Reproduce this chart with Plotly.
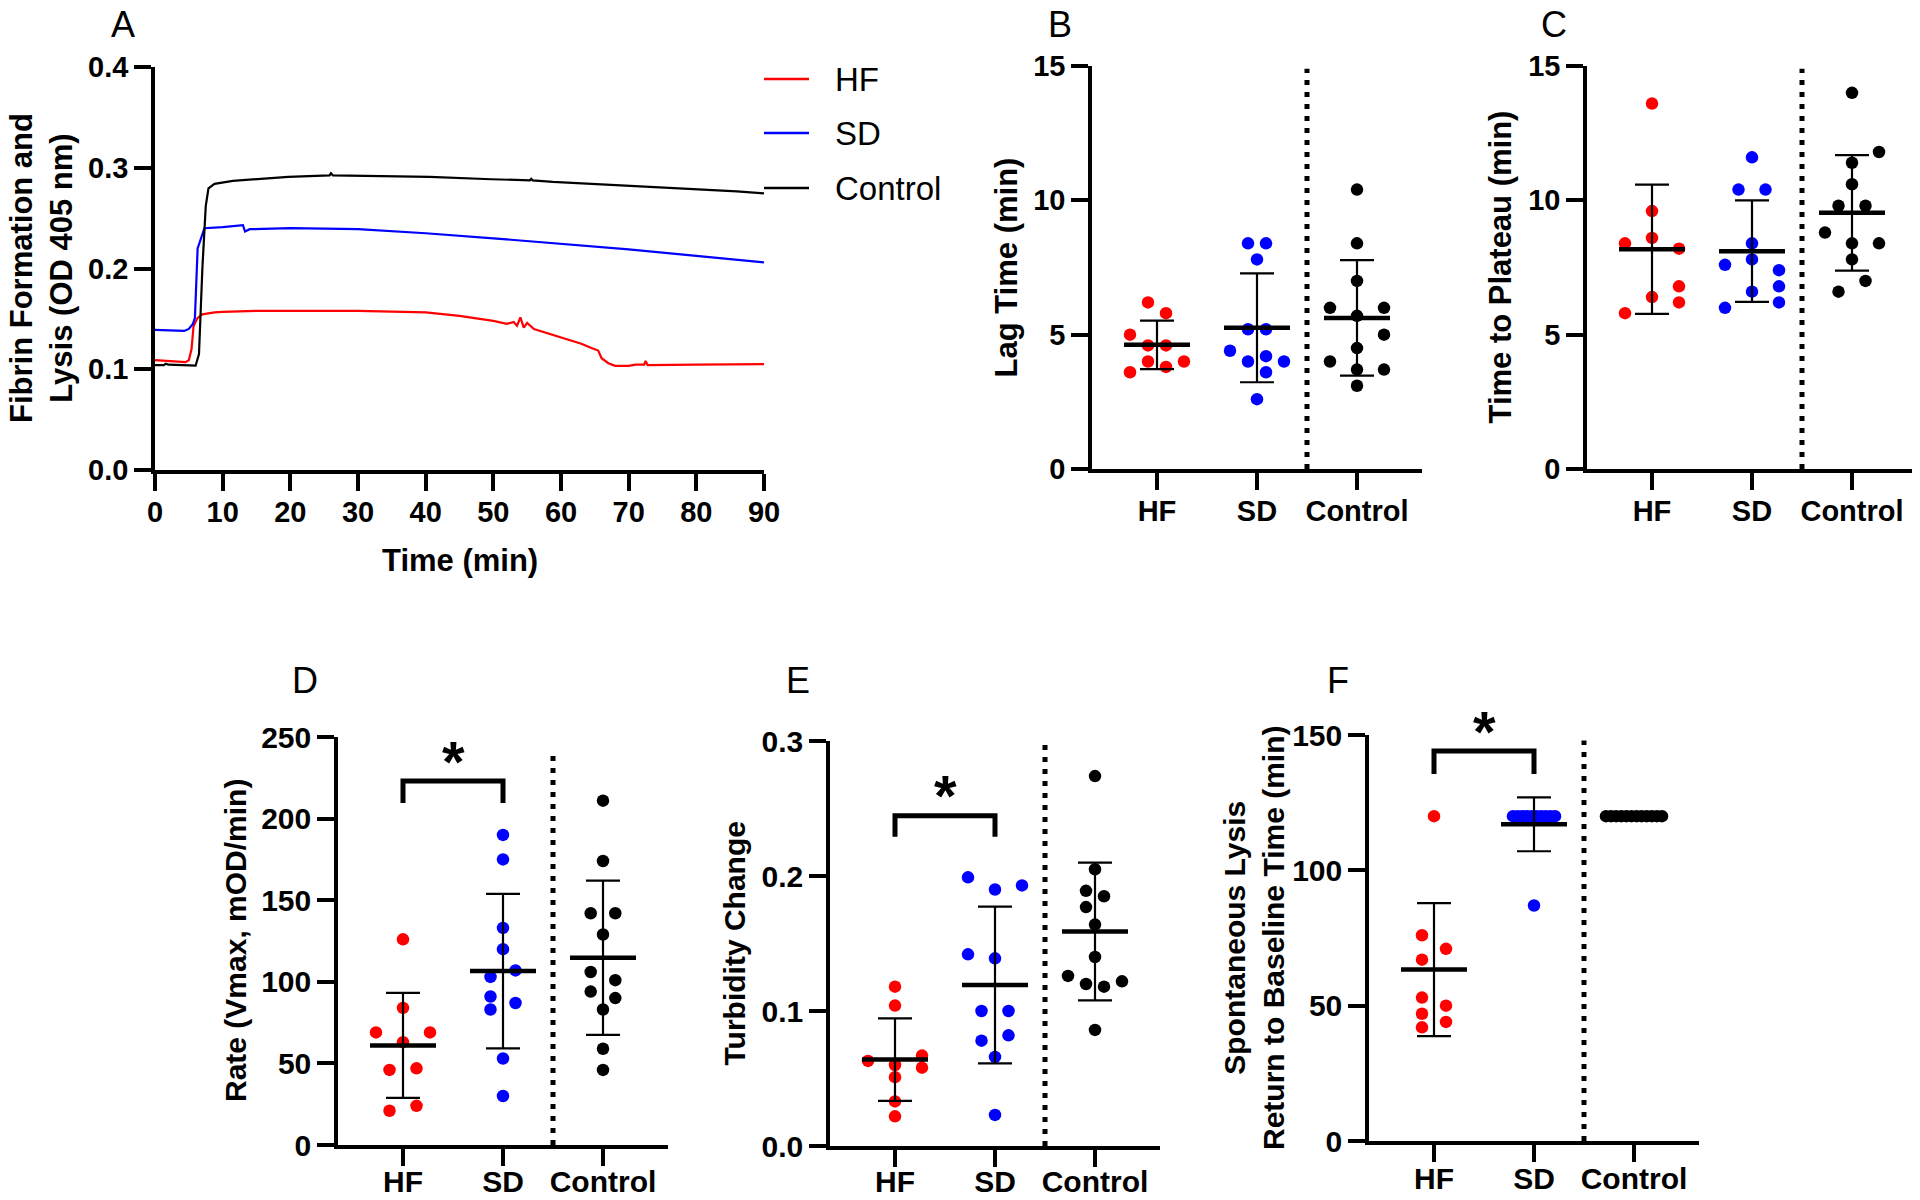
import numpy as np
import plotly.graph_objects as go

W, H = 1920, 1200
OFF = 8  # the page body margin moves the figure by 8 px
FW, FH = W - OFF, H - OFF
FONT = "Liberation Sans, Arial, Helvetica, sans-serif"

groups = ["HF", "SD", "Control"]
colors = ["#ff0000", "#0000ff", "#000000"]

# ---------------- A: fibrin formation and lysis (OD 405 nm) ----------------
hf_time = [0, 2, 4.5, 5.0, 5.4, 5.7, 6.3, 7, 8.8, 10, 15, 30, 35, 40, 45, 50, 52, 53, 53.5, 54,
           54.5, 55, 56, 60, 63, 64.5, 65.5, 66, 67, 68, 70, 71, 72.3, 72.5, 72.8, 80, 90]
hf_od = [0.109, 0.108, 0.107, 0.109, 0.120, 0.143, 0.151, 0.1545, 0.1565, 0.157, 0.158, 0.158, 0.1575,
         0.1565, 0.153, 0.148, 0.145, 0.147, 0.1432, 0.1515, 0.1413, 0.146, 0.140, 0.1318, 0.1254,
         0.121, 0.1186, 0.111, 0.106, 0.1034, 0.1034, 0.1045, 0.1045, 0.1083, 0.104, 0.1045, 0.105]

sd_time = [0, 4.3, 5.0, 5.6, 5.9, 6.3, 7.3, 10, 13, 13.3, 14, 20, 30, 40, 50, 60, 70, 80, 90]
sd_od = [0.139, 0.138, 0.140, 0.145, 0.151, 0.220, 0.240, 0.241, 0.243, 0.2367, 0.239, 0.240, 0.239,
         0.235, 0.230, 0.2246, 0.219, 0.2125, 0.206]

ctrl_time = [0, 1.3, 1.6, 2, 6.0, 6.5, 7.0, 7.5, 7.9, 8.8, 11.5, 19.7, 25.8, 26, 26.3, 30.6, 40.6,
             49.7, 55.4, 55.6, 55.8, 58.8, 67.9, 77, 86, 90]
ctrl_od = [0.104, 0.104, 0.1055, 0.1045, 0.1035, 0.115, 0.200, 0.262, 0.2795, 0.284, 0.287, 0.291,
           0.2925, 0.2945, 0.2925, 0.292, 0.291, 0.2886, 0.2875, 0.289, 0.2875, 0.286, 0.283, 0.280,
           0.2765, 0.2746]

# ---------------- B: lag time (min) ----------------
lag_hf = [6.2, 5.8, 5.0, 4.6, 4.6, 4.0, 4.0, 3.8, 3.6]
lag_sd = [8.4, 8.4, 7.8, 5.2, 5.2, 4.4, 4.0, 4.2, 4.0, 3.6, 2.6]
lag_ctrl = [10.4, 8.4, 7.0, 6.0, 6.0, 5.7, 5.0, 4.5, 4.0, 3.7, 3.7, 3.1]

# ---------------- C: time to plateau (min) ----------------
plat_hf = [13.6, 9.6, 8.6, 8.4, 8.2, 6.8, 6.4, 6.2, 5.8]
plat_sd = [11.6, 10.4, 10.4, 8.4, 7.8, 7.6, 7.4, 6.8, 6.6, 6.2, 6.0]
plat_ctrl = [14.0, 11.8, 11.4, 10.6, 9.8, 9.8, 8.8, 8.4, 8.4, 7.8, 7.0, 6.6]

# ---------------- D: rate (Vmax, mOD/min) ----------------
rate_hf = [126, 84, 69, 69, 63, 47, 46, 24, 21]
rate_sd = [190, 175, 133, 120, 107, 103, 91, 87, 83, 53, 30]
rate_ctrl = [211, 174, 142, 142, 129, 106, 101, 94, 90, 83, 59, 46]

# ---------------- E: turbidity change ----------------
turb_hf = [0.118, 0.104, 0.067, 0.063, 0.060, 0.058, 0.051, 0.033, 0.022]
turb_sd = [0.199, 0.193, 0.190, 0.142, 0.139, 0.100, 0.100, 0.082, 0.078, 0.066, 0.023]
turb_ctrl = [0.274, 0.205, 0.189, 0.185, 0.177, 0.164, 0.140, 0.126, 0.122, 0.120, 0.118, 0.086]

# ---------------- F: spontaneous lysis, return to baseline (min) ----------------
lysis_hf = [120, 76, 71, 67, 53, 50, 47, 44, 42]
lysis_sd = [120] * 10 + [87]
lysis_ctrl = [120] * 12

# horizontal scatter of points inside each column (category units)
lag_dx = [[-0.09, 0.09, -0.27, -0.09, 0.09, -0.09, 0.27, 0.09, -0.27],
          [-0.09, 0.09, 0, -0.09, 0.09, -0.27, -0.09, 0.09, 0.27, 0.09, 0],
          [0, 0, 0, -0.27, 0.27, 0, 0.27, 0, -0.27, 0, 0.27, 0]]
plat_dx = [[0, 0, 0, -0.27, 0.27, 0.27, 0, 0.27, -0.27],
           [0, -0.135, 0.135, 0, 0, -0.27, 0.27, 0.27, 0, 0.27, -0.27],
           [0, 0.27, 0, 0, -0.135, 0.135, -0.27, 0, 0.27, 0, 0.135, -0.135]]
rate_dx = [[0, 0, -0.27, 0.27, 0, 0.135, -0.135, 0.135, -0.135],
           [0, 0, 0, 0, 0.125, -0.125, -0.125, 0.125, -0.125, 0, 0],
           [0, 0, -0.123, 0.123, 0, -0.123, 0.123, -0.123, 0.123, 0, 0, 0]]
turb_dx = [[0, 0, 0.27, -0.27, 0, 0.27, 0, 0, 0],
           [-0.27, 0.27, 0, -0.27, 0, -0.135, 0.135, 0.135, -0.135, 0, 0],
           [0, 0, -0.09, 0.09, -0.09, 0, 0, -0.27, 0.27, -0.09, 0.09, 0]]
lysis_dx = [[0, -0.12, 0.12, -0.12, -0.12, 0.12, -0.12, 0.12, -0.12],
            list(np.linspace(-0.21, 0.21, 10)) + [0],
            list(np.linspace(-0.28, 0.28, 12))]


# screen pixel -> paper fraction
def px(x):
    return (x - OFF) / FW


def py(y):
    return 1 - (y - OFF) / FH


fig = go.Figure()
annotations = []
shapes = []


def axis_style(**kw):
    d = dict(showline=True, linewidth=3.5, linecolor="black", ticks="outside", ticklen=17,
             tickwidth=3.5, tickcolor="black", showgrid=False, zeroline=False, automargin=False,
             tickfont=dict(family=FONT, size=29, color="black", weight="bold"))
    d.update(kw)
    return d


def label(text, x, y, size, bold=True, angle=0, xanchor="center", yanchor="middle"):
    f = dict(family=FONT, size=size, color="black")
    if bold:
        f["weight"] = "bold"
    return dict(text=text, xref="paper", yref="paper", x=px(x), y=py(y), xanchor=xanchor,
                yanchor=yanchor, textangle=angle, showarrow=False, font=f)


# ---- panel A ----
for t, v, c, name in [(hf_time, hf_od, colors[0], "HF"), (sd_time, sd_od, colors[1], "SD"),
                      (ctrl_time, ctrl_od, colors[2], "Control")]:
    fig.add_trace(go.Scatter(x=t, y=v, mode="lines", line=dict(color=c, width=2.2), name=name,
                             xaxis="x", yaxis="y", showlegend=False))

layout_axes = {}
layout_axes["xaxis"] = axis_style(domain=[px(155), px(764)], range=[0, 90], tickvals=list(range(0, 91, 10)),
                                  anchor="y", ticklabelstandoff=-4)
layout_axes["yaxis"] = axis_style(domain=[py(470), py(67)], range=[0, 0.4], tickvals=[0, 0.1, 0.2, 0.3, 0.4],
                                  tickformat=".1f", anchor="x")

# legend of panel A
for i, (name, c) in enumerate(zip(groups, colors)):
    yy = [79, 133, 188][i]
    shapes.append(dict(type="line", xref="paper", yref="paper", x0=px(764), x1=px(809), y0=py(yy), y1=py(yy),
                       line=dict(color=c, width=2.5)))
    annotations.append(label(name, 833, yy, 33, bold=False, xanchor="left"))

annotations.append(label("Time (min)", 460, 560, 31))
annotations.append(label("Fibrin Formation and<br>Lysis (OD 405 nm)", 42, 268, 31, angle=-90))
annotations.append(label("A", 155 - 18, 25, 36, bold=False, xanchor="right"))

# ---- dot panels B-F ----
panels = [
    dict(k=2, vals=[lag_hf, lag_sd, lag_ctrl], dx=lag_dx, box=(1092, 66, 469), top=15,
         ticks=[0, 5, 10, 15], fmt="", sep=14.9, title="Lag Time (min)", tx=1006, fs=31, letter="B",
         ly=25, tsize=29, stand=-4),
    dict(k=3, vals=[plat_hf, plat_sd, plat_ctrl], dx=plat_dx, box=(1587, 66, 469), top=15,
         ticks=[0, 5, 10, 15], fmt="", sep=14.9, title="Time to Plateau (min)", tx=1500, fs=31,
         letter="C", ly=25, tsize=29, stand=-4),
    dict(k=4, vals=[rate_hf, rate_sd, rate_ctrl], dx=rate_dx, box=(338, 737, 1145), top=250,
         ticks=[0, 50, 100, 150, 200, 250], fmt="", sep=240, title="Rate (Vmax, mOD/min)", tx=235,
         fs=30, letter="D", ly=680, tsize=30, stand=-10, sig=(209.5, 223, 239)),
    dict(k=5, vals=[turb_hf, turb_sd, turb_ctrl], dx=turb_dx, box=(830, 741, 1146), top=0.3,
         ticks=[0, 0.1, 0.2, 0.3], fmt=".1f", sep=0.298, title="Turbidity Change", tx=734, fs=30,
         letter="E", ly=680, tsize=30, stand=-11, sig=(0.229, 0.2447, 0.2645)),
    dict(k=6, vals=[lysis_hf, lysis_sd, lysis_ctrl], dx=lysis_dx, box=(1369, 735, 1141), top=150,
         ticks=[0, 50, 100, 150], fmt="", sep=148,
         title="Spontaneous Lysis<br>Return to Baseline Time (min)", tx=1254, fs=30, letter="F",
         ly=680, tsize=30, stand=-9, sig=(135.6, 144.1, 154)),
]

XMIN, XMAX = -0.65, 2.65
for p in panels:
    k = p["k"]
    xa, ya = "x%d" % k, "y%d" % k
    x0, yt, yb = p["box"]
    x1 = x0 + 100 * (XMAX - XMIN)
    tf = dict(family=FONT, size=p["tsize"], color="black", weight="bold")
    layout_axes["xaxis%d" % k] = axis_style(domain=[px(x0), px(x1)], range=[XMIN, XMAX], tickvals=[0, 1, 2],
                                            ticktext=groups, anchor=ya, tickfont=tf,
                                            ticklabelstandoff=p["stand"])
    layout_axes["yaxis%d" % k] = axis_style(domain=[py(yb), py(yt)], range=[0, p["top"]], tickvals=p["ticks"],
                                            tickformat=p["fmt"], anchor=xa, tickfont=tf)
    means, sds = [], []
    for i, (vals, dxs) in enumerate(zip(p["vals"], p["dx"])):
        arr = np.array(vals, dtype=float)
        means.append(arr.mean())
        sds.append(arr.std(ddof=1))
        fig.add_trace(go.Scatter(x=[i + d for d in dxs], y=vals, mode="markers", xaxis=xa, yaxis=ya,
                                 marker=dict(color=colors[i], size=12.5, line=dict(width=0)),
                                 cliponaxis=False, showlegend=False))
    # mean bars
    mx, my = [], []
    for i, m in enumerate(means):
        mx += [i - 0.33, i + 0.33, None]
        my += [m, m, None]
    fig.add_trace(go.Scatter(x=mx, y=my, mode="lines", line=dict(color="black", width=4.5), xaxis=xa,
                             yaxis=ya, showlegend=False, cliponaxis=False))
    # SD error bars
    fig.add_trace(go.Scatter(x=[0, 1, 2], y=means, mode="markers", marker=dict(size=1, color="rgba(0,0,0,0)"),
                             error_y=dict(type="data", array=sds, symmetric=True, color="black", thickness=2.2,
                                          width=17), xaxis=xa, yaxis=ya, showlegend=False))
    # dotted separator
    shapes.append(dict(type="line", xref=xa, yref=ya, x0=1.5, x1=1.5, y0=0, y1=p["sep"],
                       line=dict(color="black", width=5, dash="5px,7px")))
    if "sig" in p:
        lo, hi, star = p["sig"]
        shapes.append(dict(type="path", xref=xa, yref=ya,
                           path="M 0,%g L 0,%g L 1,%g L 1,%g" % (lo, hi, hi, lo),
                           line=dict(color="black", width=5)))
        # star may sit above the axis top, so place it in paper units
        star_px = yb - star / p["top"] * (yb - yt) + 7
        star_x = x0 + 100 * (0.5 - XMIN)
        annotations.append(label("*", star_x, star_px, 58))
    annotations.append(label(p["title"], p["tx"], (yt + yb) / 2, p["fs"], angle=-90))
    annotations.append(label(p["letter"], x0 - 18, p["ly"], 36, bold=False, xanchor="right"))

fig.update_layout(width=FW, height=FH, margin=dict(l=0, r=0, t=0, b=0), plot_bgcolor="white",
                  paper_bgcolor="white", showlegend=False, annotations=annotations, shapes=shapes,
                  font=dict(family=FONT, color="black"), **layout_axes)

fig.write_html("out.html")
